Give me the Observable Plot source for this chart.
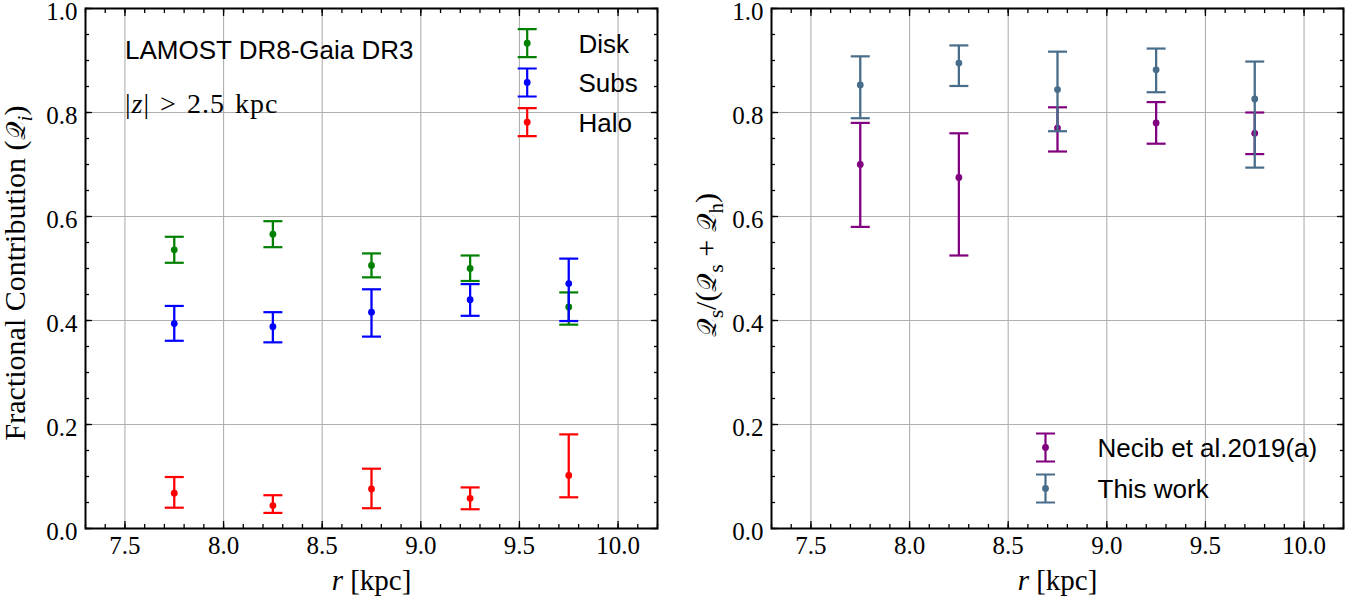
<!DOCTYPE html>
<html><head><meta charset="utf-8">
<script src="https://cdn.jsdelivr.net/npm/d3@7"></script>
<script src="https://cdn.jsdelivr.net/npm/@observablehq/plot@0.6"></script>
<style>
html,body{margin:0;padding:0;background:#fff;}
#wrap{display:flex;width:1364px;height:601px;}
#wrap svg{display:block;flex:none;}
</style></head><body><div id="wrap"></div>
<script>
// ---------- data ----------
const r = [7.75, 8.25, 8.75, 9.25, 9.75];

const disk   = [0.536, 0.566, 0.506, 0.500, 0.426];
const diskLo = [0.511, 0.541, 0.483, 0.476, 0.392];
const diskHi = [0.561, 0.591, 0.529, 0.525, 0.454];

const subs   = [0.394, 0.388, 0.416, 0.440, 0.471];
const subsLo = [0.361, 0.358, 0.369, 0.409, 0.399];
const subsHi = [0.428, 0.416, 0.460, 0.470, 0.519];

const halo   = [0.068, 0.044, 0.076, 0.058, 0.102];
const haloLo = [0.040, 0.030, 0.039, 0.037, 0.060];
const haloHi = [0.099, 0.064, 0.115, 0.079, 0.181];

const necib   = [0.700, 0.675, 0.770, 0.780, 0.760];
const necibLo = [0.580, 0.525, 0.725, 0.740, 0.720];
const necibHi = [0.780, 0.760, 0.810, 0.820, 0.800];

const thisWork   = [0.853, 0.895, 0.844, 0.882, 0.826];
const thisWorkLo = [0.789, 0.851, 0.764, 0.839, 0.694];
const thisWorkHi = [0.908, 0.929, 0.917, 0.923, 0.898];

const xTicks = [7.5, 8.0, 8.5, 9.0, 9.5, 10.0];
const yTicks = [0.0, 0.2, 0.4, 0.6, 0.8, 1.0];
const xTickLabels = ["7.5", "8.0", "8.5", "9.0", "9.5", "10.0"];
const yTickLabels = ["0.0", "0.2", "0.4", "0.6", "0.8", "1.0"];
const xMinor = d3.range(73, 103).map(d => d / 10);
const yMinor = d3.range(0, 21).map(d => d / 20);
const xDomain = [7.3, 10.2];
const yDomain = [0, 1];

const leftSeries = [
  {name: "Disk", color: "#008000", v: disk, lo: diskLo, hi: diskHi},
  {name: "Subs", color: "#0000ff", v: subs, lo: subsLo, hi: subsHi},
  {name: "Halo", color: "#ff0000", v: halo, lo: haloLo, hi: haloHi}
];
const rightSeries = [
  {name: "Necib et al.2019(a)", color: "#800080", v: necib, lo: necibLo, hi: necibHi},
  {name: "This work", color: "#486d8b", v: thisWork, lo: thisWorkLo, hi: thisWorkHi}
];

// ---------- helpers ----------
const SERIF = "Liberation Serif";
const SANS = "Liberation Sans";
const capSym = {draw(c) { c.moveTo(-9.5, 0); c.lineTo(9.5, 0); }};
const glyphSym = {draw(c) {
  c.moveTo(-9.5, -14); c.lineTo(9.5, -14);
  c.moveTo(0, -14); c.lineTo(0, 14);
  c.moveTo(-9.5, 14); c.lineTo(9.5, 14);
}};
const fmtX = d => xTickLabels[xTicks.indexOf(d)];
const fmtY = d => yTickLabels[yTicks.indexOf(d)];

function rows(s) { return r.map((x, i) => ({x, y: s.v[i], lo: s.lo[i], hi: s.hi[i]})); }

function errorbars(s) {
  const d = rows(s);
  return [
    Plot.ruleX(d, {x: "x", y1: "lo", y2: "hi", stroke: s.color, strokeWidth: 2.3}),
    Plot.dot(d, {x: "x", y: "lo", symbol: capSym, stroke: s.color, strokeWidth: 2.2, fill: "none"}),
    Plot.dot(d, {x: "x", y: "hi", symbol: capSym, stroke: s.color, strokeWidth: 2.2, fill: "none"}),
    Plot.dot(d, {x: "x", y: "y", r: 3.4, fill: s.color, stroke: "none"})
  ];
}

function legendEntry(s, dx, dy, tdx) {
  return [
    Plot.dot([s.name], {x: null, y: null, frameAnchor: "top-left", dx, dy, symbol: glyphSym, stroke: s.color, strokeWidth: 2.2, fill: "none"}),
    Plot.dot([s.name], {x: null, y: null, frameAnchor: "top-left", dx, dy, r: 3.4, fill: s.color, stroke: "none"}),
    Plot.text([s.name], {x: null, y: null, frameAnchor: "top-left", dx: tdx, dy: dy + 1.5, text: d => d,
      textAnchor: "start", lineAnchor: "middle", fontFamily: SANS, fontSize: 26, fill: "black"})
  ];
}

function frameMarks() {
  const ax = {strokeWidth: 1.3, label: null};
  return [
    Plot.frame({stroke: "black", strokeWidth: 2}),
    Plot.axisX(xTicks, {...ax, anchor: "bottom", tickSize: -7, tickPadding: 15, tickFormat: fmtX, fontSize: 25, fontFamily: SERIF}),
    Plot.axisX(xMinor, {...ax, anchor: "bottom", tickSize: -4, tickFormat: () => ""}),
    Plot.axisX(xTicks, {...ax, anchor: "top", tickSize: -7, tickFormat: () => ""}),
    Plot.axisX(xMinor, {...ax, anchor: "top", tickSize: -4, tickFormat: () => ""}),
    Plot.axisY(yTicks, {...ax, anchor: "left", tickSize: -7, tickFormat: () => ""}),
    Plot.axisY(yMinor, {...ax, anchor: "left", tickSize: -4, tickFormat: () => ""}),
    Plot.axisY(yTicks, {...ax, anchor: "right", tickSize: -7, tickFormat: () => ""}),
    Plot.axisY(yMinor, {...ax, anchor: "right", tickSize: -4, tickFormat: () => ""}),
    // y tick labels, sitting a little below their ticks as in the reference
    Plot.text(yTicks, {y: d => d, frameAnchor: "left", dx: -8, dy: 3.5, text: fmtY, textAnchor: "end", lineAnchor: "middle", fontFamily: SERIF, fontSize: 25, fill: "black"})
  ];
}

function panel({marginLeft, marginRight, ylabel, ylabelDx, series, legend, extra}) {
  return Plot.plot({
    width: 682, height: 601,
    marginTop: 8, marginBottom: 73, marginLeft, marginRight,
    x: {domain: xDomain},
    y: {domain: yDomain},
    style: {fontFamily: SERIF, fontSize: "25px", color: "black", background: "white", overflow: "visible"},
    marks: [
      Plot.gridX(xTicks, {stroke: "#b0b0b0", strokeOpacity: 1, strokeWidth: 1.1}),
      Plot.gridY(yTicks, {stroke: "#b0b0b0", strokeOpacity: 1, strokeWidth: 1.1}),
      ...series.flatMap(errorbars),
      ...legend,
      ...(extra || []),
      ...frameMarks(),
      Plot.text(["r [kpc]"], {x: null, y: null, frameAnchor: "bottom", dy: 52, text: d => d, lineAnchor: "middle", fontFamily: SERIF, fontSize: 29}),
      Plot.text([ylabel], {x: null, y: null, frameAnchor: "left", dx: ylabelDx, rotate: -90, text: d => d, lineAnchor: "middle", fontFamily: SERIF, fontSize: 28})
    ]
  });
}

const leftLegend = leftSeries.flatMap((s, i) => legendEntry(s, 441.7, [34.7, 74, 113.7][i], 493));
const rightLegend = rightSeries.flatMap((s, i) => legendEntry(s, 274, [439, 480][i], 326));

const left = panel({
  marginLeft: 85, marginRight: 25,
  ylabel: "Fractional Contribution (𝒬i)", ylabelDx: -70,
  series: leftSeries, legend: leftLegend,
  extra: [
    Plot.text(["LAMOST DR8-Gaia DR3"], {x: null, y: null, frameAnchor: "top-left", dx: 39.5, dy: 42, text: d => d, textAnchor: "start", lineAnchor: "middle", fontFamily: SANS, fontSize: 26}),
    Plot.text(["|z| > 2.5 kpc"], {x: null, y: null, frameAnchor: "top-left", dx: 39.5, dy: 96, text: d => d, textAnchor: "start", lineAnchor: "middle", fontFamily: SERIF, fontSize: 28})
  ]
});
const right = panel({
  marginLeft: 89, marginRight: 21,
  ylabel: "𝒬s/(𝒬s + 𝒬h)", ylabelDx: -65,
  series: rightSeries, legend: rightLegend
});

function find(svg, plain) {
  return d3.select(svg).selectAll("text").filter(function () { return this.textContent === plain; }).node();
}
function rich(svg, plain, html) {
  const el = find(svg, plain);
  if (el) el.innerHTML = html;
  return el;
}
const Q = `<tspan font-size="0.88em">𝒬</tspan>`;
const sub = (t, it) => `<tspan font-size="0.7em" dy="0.35em"${it ? ' font-style="italic"' : ""}>${t}</tspan><tspan dy="-0.245em">`;

for (const svg of [left, right]) rich(svg, "r [kpc]", `<tspan font-style="italic">r</tspan> [kpc]`);
const yl = rich(left, "Fractional Contribution (𝒬i)", `Fractional Contribution (${Q}${sub("i", true)})</tspan>`);
const zt = rich(left, "|z| > 2.5 kpc", `|<tspan font-style="italic">z</tspan>| &gt; 2.5 kpc`);
if (zt) { zt.setAttribute("letter-spacing", "1"); zt.setAttribute("word-spacing", "2"); }
const yr = rich(right, "𝒬s/(𝒬s + 𝒬h)", `${Q}${sub("s")}/(${Q}</tspan>${sub("s")} + ${Q}</tspan>${sub("h")})</tspan>`);

document.getElementById("wrap").append(left, right);

// fit rotated labels to the reference's span and centre them explicitly
function fit(el, target, shift, minFs, maxFs) {
  if (!el) return;
  el.setAttribute("text-anchor", "start");
  const fs0 = parseFloat(getComputedStyle(el).fontSize);
  let w = el.getComputedTextLength();
  const fs = Math.max(minFs, Math.min(maxFs, fs0 * target / w));
  el.setAttribute("font-size", fs);
  w = el.getComputedTextLength();
  el.setAttribute("x", -w / 2 + shift);
}
fit(yl, 351, -4.5, 24, 30);
fit(yr, 155, 3.5, 24, 30);
</script>
</body></html>
